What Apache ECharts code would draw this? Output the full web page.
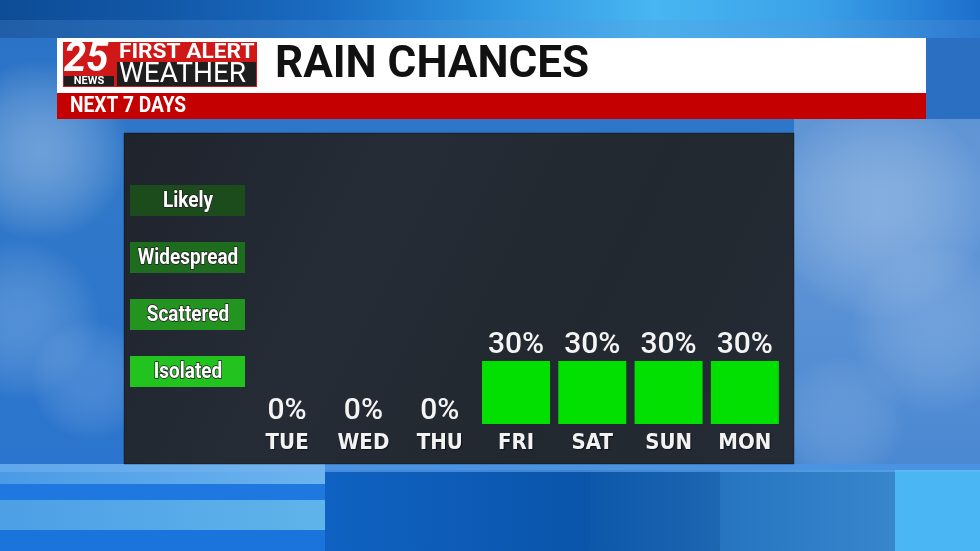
<!DOCTYPE html>
<html><head><meta charset="utf-8">
<script src="https://cdn.jsdelivr.net/npm/echarts@6/dist/echarts.min.js"></script>
<style>html,body{margin:0;padding:0;background:#1a6ac0}#c{width:980px;height:551px}</style>
</head><body><div id="c"></div>
<script>
const days = ['TUE','WED','THU','FRI','SAT','SUN','MON'];
const rainChance = [0, 0, 0, 30, 30, 30, 30];
const levelNames = ['Likely','Widespread','Scattered','Isolated'];
const levelColors = ['#1c4c1b','#1e6c1d','#23941f','#22c21f'];
const title = 'RAIN CHANCES';
const subtitle = 'NEXT 7 DAYS';

const chart = echarts.init(document.getElementById('c'), null, {renderer:'canvas'});
const Z = -10;
const bg = [];
function rect(x,y,w,h,fill,z){ bg.push({type:'rect',z:z===undefined?Z:z,silent:true,shape:{x:x,y:y,width:w,height:h},style:{fill:fill}}); }
function lg(x0,y0,x1,y1,stops){ return new echarts.graphic.LinearGradient(x0,y0,x1,y1,stops.map((c,i)=>({offset:i/(stops.length-1),color:c}))); }
function cloud(cx,cy,r,col){ bg.push({type:'circle',z:Z,silent:true,shape:{cx:cx,cy:cy,r:r},style:{fill:new echarts.graphic.RadialGradient(0.5,0.5,0.5,[{offset:0,color:col},{offset:1,color:'rgba(255,255,255,0)'}])}}); }

// sky background
rect(0,0,980,551, lg(0,0,0,1,['#2a72c6','#3078c8','#2d76cc','#2a74d0']));
rect(794,38,186,430, lg(0,0,0,1,['#5a90d2','#6498d6','#5890d4','#4a88d2']));
cloud(40,150,90,'rgba(170,200,235,0.5)');
cloud(20,320,80,'rgba(150,190,235,0.35)');
cloud(90,380,60,'rgba(130,175,230,0.3)');
cloud(880,210,110,'rgba(185,210,238,0.4)');
cloud(935,330,85,'rgba(165,200,238,0.3)');
cloud(840,420,65,'rgba(150,190,235,0.25)');
// top band
rect(0,0,980,38, lg(0,0,1,0,['#0d4c96','#1258a8','#1a6cc2','#2f95e0','#48b6f2','#3aa2e8','#1d6fcc']));
rect(0,20,980,18, 'rgba(90,150,220,0.25)');
rect(926,38,54,81,'#2b6fc2');
// bottom bands
rect(0,464,980,87,'#1d72d6');
rect(0,464,325,20, lg(0,0,1,0,['#4a9ae6','#6cb4ee']));
rect(0,484,325,16,'#1e78e0');
rect(0,500,325,30, lg(0,0,1,0,['#4d9fe6','#5fb4ea']));
rect(0,530,325,21,'#1a74dc');
rect(325,470,270,81, lg(0,0,1,0,['#0f62c2','#0a54aa']));
rect(590,470,130,81, lg(0,0,1,0,['#0d58aa','#1c66b2']));
rect(720,470,175,81, lg(0,0,1,0,['#2474c0','#3886cc']));
rect(895,470,85,81,'#4ab6f4');
rect(0,464,980,8,'rgba(120,180,240,0.5)');

// header
rect(57,38,869,55,'#ffffff',1);
rect(57,93,869,26,'#c40000',1);
// logo
rect(63,42,194,45,'#d01818',2);
rect(117,62,139,24,'#1e1e1e',3);
rect(64,76,50,10,'#1e1e1e',3);

// panel
rect(124,133,670,331, lg(0,0,1,1,['#1e232c','#262c36','#22282f','#262c36']), -5);
bg.push({type:'rect',z:-5,silent:true,shape:{x:124,y:133,width:670,height:331},style:{fill:'none',stroke:'rgba(0,0,0,0.35)',lineWidth:1}});

const T = [];
function txt(x,y,s,style,extra){ T.push(Object.assign({type:'text',z:10,silent:true,x:x,y:y,style:Object.assign({text:s,fill:'#fff'},style)},extra||{})); }
txt(64,60,'25',{font:'italic bold 42px Roboto',textVerticalAlign:'middle',fill:'#ffffff'},{scaleX:0.95});
txt(89,81.5,'NEWS',{font:'bold 11px Roboto',textAlign:'center',textVerticalAlign:'middle'});
txt(119,53,'FIRST ALERT',{font:'bold 21px Roboto',textVerticalAlign:'middle'},{scaleX:1.08});
txt(119,75,'WEATHER',{font:'28px Roboto',textVerticalAlign:'middle'});
txt(275,66,title,{font:'bold 44px Roboto',fill:'#111111',textVerticalAlign:'middle'});
txt(70,106,subtitle,{font:'bold 22px Roboto',textVerticalAlign:'middle'},{scaleX:0.87});

// legend boxes
const boxY = [185,242,299,356];
levelNames.forEach((n,i)=>{
  bg.push({type:'rect',z:1,silent:true,shape:{x:130,y:boxY[i],width:115,height:31},style:{fill:levelColors[i]}});
  T.push({type:'text',z:10,silent:true,x:188,y:boxY[i]+16,scaleX:0.86,
    style:{text:n,fill:'#ffffff',font:'bold 22px Roboto',textAlign:'center',textVerticalAlign:'middle',
      stroke:'#202020',lineWidth:1.5,shadowColor:'rgba(0,0,0,0.8)',shadowBlur:1,shadowOffsetX:1.5,shadowOffsetY:1.5}});
});

chart.setOption({
  animation:false,
  backgroundColor:'transparent',
  grid:{left:249,top:214,width:534,height:210,containLabel:false},
  xAxis:{type:'category',data:days,axisLine:{show:false},axisTick:{show:false},
    axisLabel:{color:'#f2f2f2',fontFamily:'"DejaVu Sans Condensed"',fontWeight:'bold',fontSize:22,margin:8,
      textShadowColor:'rgba(0,0,0,0.6)',textShadowBlur:1,textShadowOffsetX:1,textShadowOffsetY:1}},
  yAxis:{type:'value',min:0,max:100,show:false,splitLine:{show:false}},
  series:[{type:'bar',barWidth:68,z:5,
    data:rainChance.map(v=>({value:v,label:{distance:v===0?-2:1}})),
    itemStyle:{color:'#02e002'},
    label:{show:true,position:'top',formatter:'{c}%',color:'#f4f4f4',
      fontFamily:'Roboto',fontSize:30,fontWeight:500}}],
  graphic:{elements:bg.concat(T)}
});
</script></body></html>
